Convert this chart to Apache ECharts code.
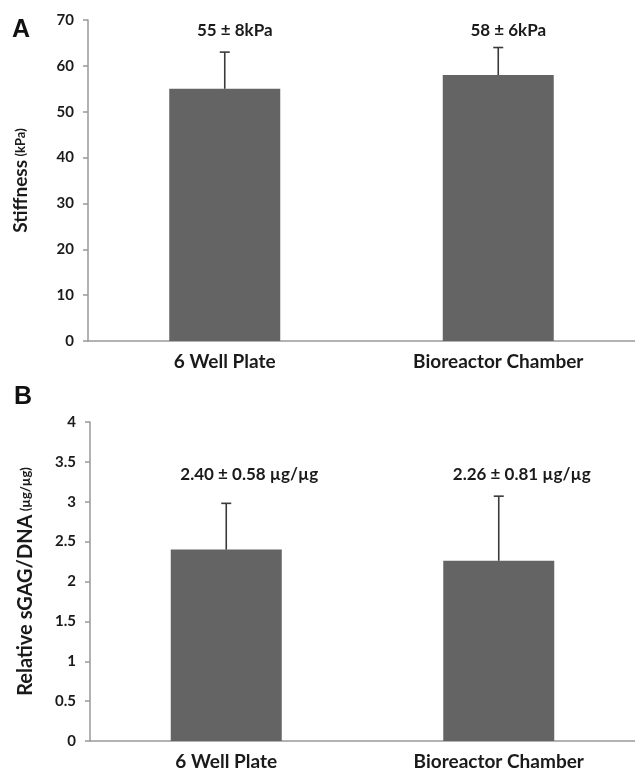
<!DOCTYPE html>
<html>
<head>
<meta charset="utf-8">
<script src="https://cdn.jsdelivr.net/npm/echarts@6/dist/echarts.min.js"></script>
<style>
html,body{margin:0;padding:0;background:#fff;}
#c{width:635px;height:771px;}
</style>
</head>
<body>
<div id="c"></div>
<script>
const categories = ['6 Well Plate', 'Bioreactor Chamber'];
const stiffnessMean = [55, 58];
const stiffnessErr = [8, 6];
const stiffnessLabels = ['55 ± 8kPa', '58 ± 6kPa'];
const gagMean = [2.40, 2.26];
const gagErr = [0.58, 0.81];
const gagLabels = ['2.40 ± 0.58 µg/µg', '2.26 ± 0.81 µg/µg'];
const stiffnessTicks = [0, 70, 10];
const gagTicks = [0, 4, 0.5];

const FONT = 'Lato, "Open Sans", sans-serif';
const BAR = '#646464';
const TXT = '#1a1a1a';

function errRender(means, errs, labels, labelDx, labelPxY) {
  return function (params, api) {
    const i = api.value(0);
    const top = api.coord([i, means[i] + errs[i]]);
    const base = api.coord([i, means[i]]);
    const gridTop = params.coordSys.y;
    return {
      type: 'group',
      children: [
        { type: 'line', shape: { x1: base[0], y1: base[1], x2: top[0], y2: top[1] },
          style: { stroke: '#3a3a3a', lineWidth: 1.6 } },
        { type: 'line', shape: { x1: top[0] - 5, y1: top[1], x2: top[0] + 5, y2: top[1] },
          style: { stroke: '#3a3a3a', lineWidth: 1.6 } },
        { type: 'text', x: base[0] + labelDx, y: gridTop + labelPxY,
          style: { text: labels[i], fill: TXT, font: 'bold 17px ' + FONT, align: 'center', verticalAlign: 'middle' } }
      ]
    };
  };
}

const axisLine = { show: true, lineStyle: { color: '#999', width: 1.5 } };

const option = {
  backgroundColor: '#fff',
  animation: false,
  graphic: [
    { type: 'text', left: 12, top: 18, style: { text: 'A', font: 'bold 25px "Liberation Sans", Arial, sans-serif', fill: '#111' } },
    { type: 'text', left: 14, top: 385, style: { text: 'B', font: 'bold 25px "Liberation Sans", Arial, sans-serif', fill: '#111' } }
  ],
  grid: [
    { left: 88, top: 20, width: 560, height: 321 },
    { left: 90, top: 422, width: 554, height: 319 }
  ],
  xAxis: [0, 1].map(g => ({
    type: 'category', gridIndex: g, data: categories,
    axisLine: axisLine, axisTick: { show: false },
    axisLabel: { color: TXT, fontFamily: FONT, fontSize: 19, fontWeight: 'bold', margin: 11 }
  })),
  yAxis: [
    { type: 'value', gridIndex: 0, min: stiffnessTicks[0], max: stiffnessTicks[1], interval: stiffnessTicks[2],
      splitLine: { show: false }, axisLine: axisLine,
      axisTick: { show: true, length: 5, lineStyle: { color: '#999', width: 1.5 } },
      axisLabel: { color: TXT, fontFamily: FONT, fontSize: 15, fontWeight: 'bold', margin: 14 },
      name: '{a|Stiffness} {b|(kPa)}', nameLocation: 'middle', nameGap: 58, nameRotate: 90,
      nameTextStyle: { rich: {
        a: { fontFamily: FONT, fontSize: 19, fontWeight: 'bold', color: TXT },
        b: { fontFamily: FONT, fontSize: 13, fontWeight: 'bold', color: TXT }
      } } },
    { type: 'value', gridIndex: 1, min: gagTicks[0], max: gagTicks[1], interval: gagTicks[2],
      splitLine: { show: false }, axisLine: axisLine,
      axisTick: { show: true, length: 5, lineStyle: { color: '#999', width: 1.5 } },
      axisLabel: { color: TXT, fontFamily: FONT, fontSize: 15, fontWeight: 'bold', margin: 14 },
      name: '{a|Relative sGAG/DNA} {b|(µg/µg)}', nameLocation: 'middle', nameGap: 54, nameRotate: 90,
      nameTextStyle: { rich: {
        a: { fontFamily: FONT, fontSize: 20, fontWeight: 'bold', color: TXT },
        b: { fontFamily: FONT, fontSize: 13, fontWeight: 'bold', color: TXT }
      } } }
  ],
  series: [
    { type: 'bar', xAxisIndex: 0, yAxisIndex: 0, data: stiffnessMean, barWidth: 111,
      itemStyle: { color: BAR }, z: 2 },
    { type: 'custom', xAxisIndex: 0, yAxisIndex: 0, z: 3,
      data: stiffnessMean.map((v, i) => [i, v]),
      renderItem: errRender(stiffnessMean, stiffnessErr, stiffnessLabels, 10, 11) },
    { type: 'bar', xAxisIndex: 1, yAxisIndex: 1, data: gagMean, barWidth: 111,
      itemStyle: { color: BAR }, z: 2 },
    { type: 'custom', xAxisIndex: 1, yAxisIndex: 1, z: 3,
      data: gagMean.map((v, i) => [i, v]),
      renderItem: errRender(gagMean, gagErr, gagLabels, 23, 53) }
  ]
};

const chart = echarts.init(document.getElementById('c'), null, { renderer: 'canvas' });
chart.setOption(option);
</script>
</body>
</html>
